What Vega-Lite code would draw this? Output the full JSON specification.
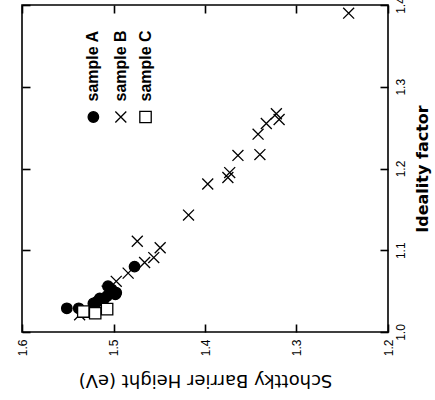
{
  "$schema": "https://vega.github.io/schema/vega-lite/v6.json",
  "width": 366,
  "height": 327,
  "autosize": {"type": "none"},
  "padding": {"left": 22, "top": 5, "right": 47, "bottom": 68},
  "background": "white",
  "config": {
    "view": {"stroke": "black", "strokeWidth": 1.6},
    "axis": {"domain": false, "grid": false, "tickColor": "black", "tickWidth": 1.6, "tickSize": -8, "labelColor": "black", "titleColor": "black", "labelFont": "Liberation Sans", "titleFont": "DejaVu Sans"}
  },
  "datasets": {
    "pts": [
      {"s": "B", "sbh": 1.243, "n": 1.390},
      {"s": "B", "sbh": 1.322, "n": 1.267},
      {"s": "B", "sbh": 1.319, "n": 1.260},
      {"s": "B", "sbh": 1.333, "n": 1.255},
      {"s": "B", "sbh": 1.342, "n": 1.242},
      {"s": "B", "sbh": 1.340, "n": 1.217},
      {"s": "B", "sbh": 1.364, "n": 1.216},
      {"s": "B", "sbh": 1.373, "n": 1.195},
      {"s": "B", "sbh": 1.375, "n": 1.189},
      {"s": "B", "sbh": 1.397, "n": 1.181},
      {"s": "B", "sbh": 1.418, "n": 1.143},
      {"s": "B", "sbh": 1.474, "n": 1.111},
      {"s": "B", "sbh": 1.449, "n": 1.103},
      {"s": "B", "sbh": 1.456, "n": 1.091},
      {"s": "B", "sbh": 1.466, "n": 1.085},
      {"s": "B", "sbh": 1.484, "n": 1.072},
      {"s": "B", "sbh": 1.497, "n": 1.062},
      {"s": "B", "sbh": 1.507, "n": 1.050},
      {"s": "B", "sbh": 1.537, "n": 1.021},
      {"s": "A", "sbh": 1.551, "n": 1.029},
      {"s": "A", "sbh": 1.538, "n": 1.029},
      {"s": "A", "sbh": 1.477, "n": 1.080},
      {"s": "A", "sbh": 1.506, "n": 1.056},
      {"s": "A", "sbh": 1.498, "n": 1.046},
      {"s": "A", "sbh": 1.515, "n": 1.041},
      {"s": "A", "sbh": 1.518, "n": 1.037},
      {"s": "A", "sbh": 1.507, "n": 1.044},
      {"s": "A", "sbh": 1.502, "n": 1.052},
      {"s": "A", "sbh": 1.522, "n": 1.035},
      {"s": "A", "sbh": 1.511, "n": 1.039},
      {"s": "A", "sbh": 1.497, "n": 1.048},
      {"s": "C", "sbh": 1.533, "n": 1.025},
      {"s": "C", "sbh": 1.520, "n": 1.023},
      {"s": "C", "sbh": 1.507, "n": 1.028}
    ],
    "leg": [
      {"s": "A", "lx": 1.522, "ly": 1.263, "ty": 1.282, "label": "sample A"},
      {"s": "B", "lx": 1.492, "ly": 1.263, "ty": 1.282, "label": "sample B"},
      {"s": "C", "lx": 1.465, "ly": 1.263, "ty": 1.282, "label": "sample C"}
    ]
  },
  "layer": [
    {
      "data": {"name": "pts"},
      "mark": {"type": "point", "filled": true, "stroke": "black", "strokeWidth": 1.3, "opacity": 1},
      "encoding": {
        "x": {"field": "sbh", "type": "quantitative", "scale": {"domain": [1.2, 1.6], "reverse": true, "nice": false, "zero": false},
              "axis": {"orient": "bottom", "values": [1.2, 1.3, 1.4, 1.5, 1.6], "format": ".1f", "labelAngle": 270, "labelFontSize": 12, "labelPadding": 15, "title": "Schottky Barrier Height (eV)", "titleAngle": 180, "titleFontSize": 18, "titleFontWeight": "normal", "titlePadding": 33}},
        "y": {"field": "n", "type": "quantitative", "scale": {"domain": [1.0, 1.4], "nice": false, "zero": false},
              "axis": {"orient": "right", "values": [1.0, 1.1, 1.2, 1.3, 1.4], "format": ".1f", "labelAngle": 270, "labelFontSize": 12, "labelPadding": 15, "title": "Ideality factor", "titleAngle": 270, "titleFontSize": 16, "titleFontWeight": "bold", "titlePadding": 24}},
        "shape": {"field": "s", "type": "nominal", "scale": {"domain": ["A", "B", "C"], "range": ["circle", "M-1,-1L1,1M-1,1L1,-1", "square"]}, "legend": null},
        "fill": {"field": "s", "type": "nominal", "scale": {"domain": ["A", "B", "C"], "range": ["black", "transparent", "white"]}, "legend": null},
        "size": {"field": "s", "type": "nominal", "scale": {"domain": ["A", "B", "C"], "range": [110, 130, 100]}, "legend": null}
      }
    },
    {
      "data": {"name": "leg"},
      "mark": {"type": "point", "filled": true, "stroke": "black", "strokeWidth": 1.3, "opacity": 1},
      "encoding": {
        "x": {"field": "lx", "type": "quantitative", "axis": {"orient": "top", "values": [1.2, 1.3, 1.4, 1.5, 1.6], "labels": false, "title": null}},
        "y": {"field": "ly", "type": "quantitative", "axis": {"orient": "left", "values": [1.0, 1.1, 1.2, 1.3, 1.4], "labels": false, "title": null}},
        "shape": {"field": "s", "type": "nominal", "legend": null},
        "fill": {"field": "s", "type": "nominal", "legend": null},
        "size": {"field": "s", "type": "nominal", "legend": null}
      }
    },
    {
      "data": {"name": "leg"},
      "mark": {"type": "text", "angle": 270, "align": "left", "baseline": "middle", "font": "Liberation Sans", "fontSize": 16, "fontWeight": "bold", "color": "black"},
      "encoding": {
        "x": {"field": "lx", "type": "quantitative", "axis": null},
        "y": {"field": "ty", "type": "quantitative", "axis": null},
        "text": {"field": "label"}
      }
    }
  ],
  "resolve": {"axis": {"x": "independent", "y": "independent"}}
}
